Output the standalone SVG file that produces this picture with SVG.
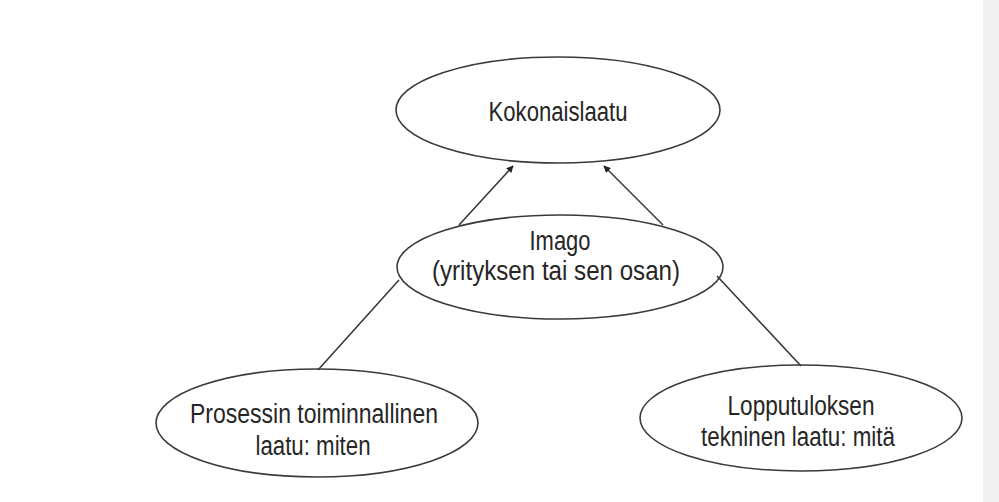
<svg xmlns="http://www.w3.org/2000/svg" width="999" height="502" viewBox="0 0 999 502">
  <style>
    .node ellipse { fill: none; stroke: #3a3a3a; stroke-width: 1.6; }
    .node text { font-family: "Liberation Sans Narrow", "Liberation Sans", Arial, sans-serif; font-size: 27px; fill: #262626; text-anchor: middle; }
    .conn line { stroke: #333333; stroke-width: 1.5; fill: none; }
  </style>
  <defs>
    <marker id="arrow" viewBox="0 0 10 10" refX="9" refY="5" markerWidth="9" markerHeight="7" markerUnits="userSpaceOnUse" orient="auto">
      <path d="M0,0 L10,5 L0,10 z" fill="#222222"/>
    </marker>
  </defs>
  <rect x="0" y="0" width="999" height="502" fill="#ffffff"/>
  <rect x="983" y="0" width="16" height="502" fill="#f0f0f0"/>

  <g id="connectors" class="conn">
    <line x1="459" y1="225" x2="513" y2="166" marker-end="url(#arrow)"/>
    <line x1="663" y1="225" x2="604" y2="166" marker-end="url(#arrow)"/>
    <line x1="399" y1="280" x2="318" y2="370"/>
    <line x1="717" y1="276" x2="801" y2="366"/>
  </g>

  <g id="kokonaislaatu" class="node">
    <ellipse cx="558" cy="110" rx="162" ry="53"/>
    <text x="558" y="121" textLength="139" lengthAdjust="spacingAndGlyphs">Kokonaislaatu</text>
  </g>

  <g id="imago" class="node">
    <ellipse cx="560" cy="267" rx="163" ry="52"/>
    <text x="560" y="250" textLength="61" lengthAdjust="spacingAndGlyphs">Imago</text>
    <text x="556" y="280" textLength="248" lengthAdjust="spacingAndGlyphs">(yrityksen tai sen osan)</text>
  </g>

  <g id="prosessi" class="node">
    <ellipse cx="317" cy="423" rx="161" ry="54"/>
    <text x="314" y="423" textLength="248" lengthAdjust="spacingAndGlyphs">Prosessin toiminnallinen</text>
    <text x="313" y="455" textLength="115" lengthAdjust="spacingAndGlyphs">laatu: miten</text>
  </g>

  <g id="lopputulos" class="node">
    <ellipse cx="801" cy="418" rx="161" ry="53"/>
    <text x="801" y="415" textLength="147" lengthAdjust="spacingAndGlyphs">Lopputuloksen</text>
    <text x="798" y="446" textLength="194" lengthAdjust="spacingAndGlyphs">tekninen laatu: mitä</text>
  </g>
</svg>
